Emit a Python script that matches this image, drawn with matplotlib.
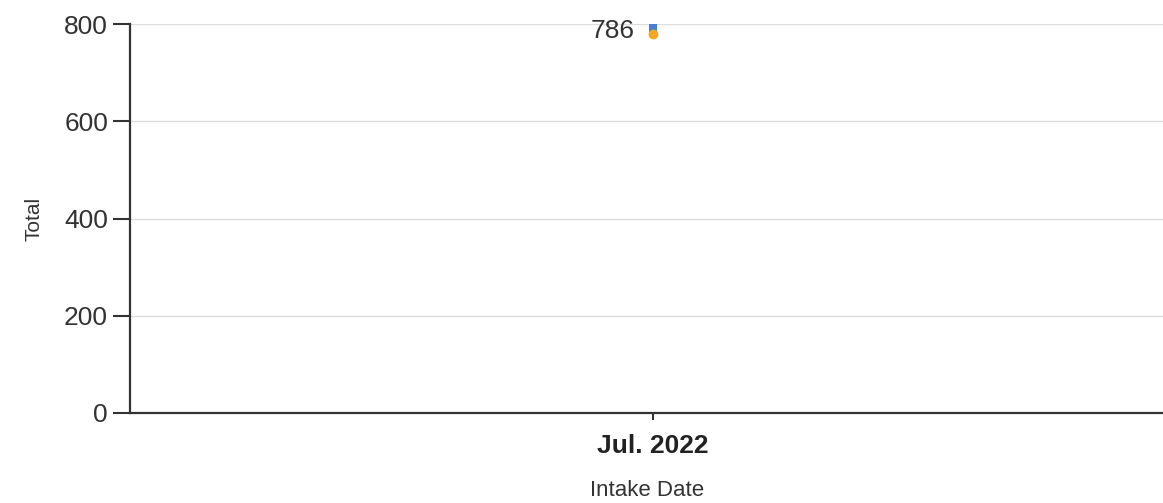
import matplotlib.pyplot as plt

# data
dates = ['Jul. 2022']
series_a = [793]   # blue square
series_b = [779]   # orange circle
total_label = ['786']

plt.rcParams['font.family'] = ['Liberation Sans', 'DejaVu Sans']

fig = plt.figure(figsize=(11.63, 5.03), dpi=100)
ax = fig.add_axes([0.112, 0.179, 0.888, 0.773])

x = list(range(len(dates)))
ax.scatter(x, series_a, marker='s', s=40, color='#4a7fd6', zorder=3, linewidths=0)
ax.scatter(x, series_b, marker='o', s=50, color='#f5a623', zorder=4, linewidths=0)
for xi, ya, yb, t in zip(x, series_a, series_b, total_label):
    ax.annotate(t, (xi, (ya + yb) / 2), xytext=(-13, 0), textcoords='offset points',
                ha='right', va='center', fontsize=19, color='#333333')

ax.set_xlim(-1, 0.976)
ax.set_ylim(0, 800)
ax.set_yticks([0, 200, 400, 600, 800])
ax.set_xticks(x)
ax.set_xticklabels(dates, fontsize=19, color='#222222', fontweight='bold')
ax.tick_params(axis='y', labelsize=19, labelcolor='#333333', length=12, width=1.5,
               color='#333333', pad=4)
ax.tick_params(axis='x', length=5, width=1.5, color='#333333', pad=10)

ax.grid(axis='y', color='#dddddd', linewidth=1)
ax.set_axisbelow(True)
for s in ['top', 'right']:
    ax.spines[s].set_visible(False)
for s in ['left', 'bottom']:
    ax.spines[s].set_color('#333333')
    ax.spines[s].set_linewidth(1.6)

ax.set_ylabel('Total', fontsize=15, color='#333333', labelpad=15)
ax.set_xlabel('Intake Date', fontsize=16, color='#333333', labelpad=16)

fig.savefig('out.png', dpi=100)
